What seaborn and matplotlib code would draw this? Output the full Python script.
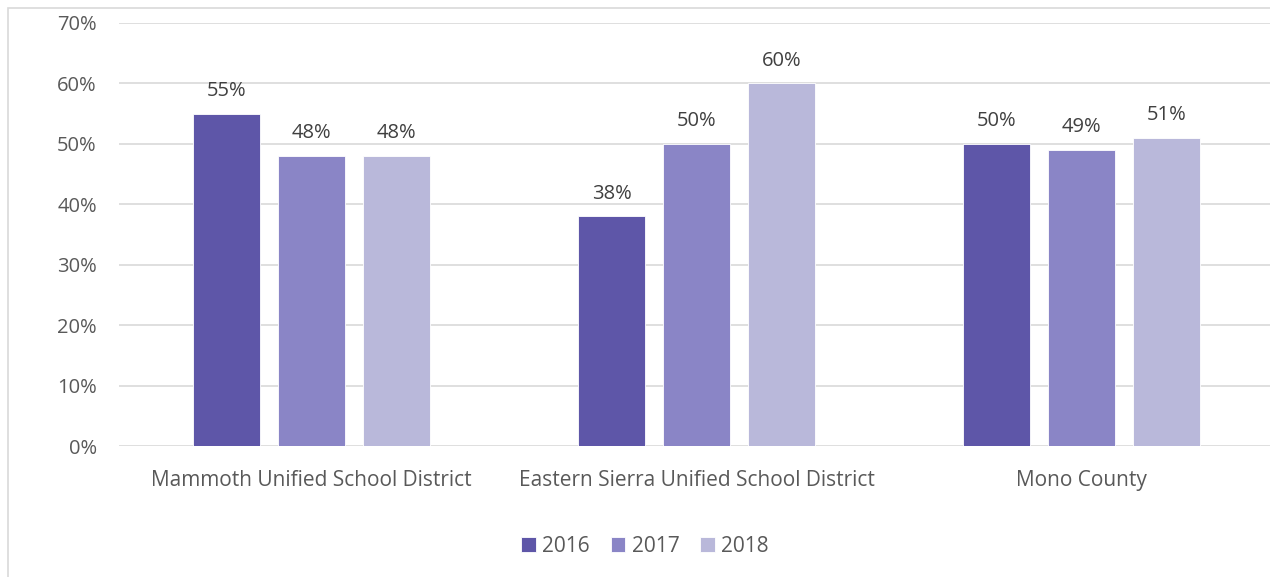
import numpy as np
import pandas as pd
import matplotlib
matplotlib.use("Agg")
import matplotlib.pyplot as plt
import seaborn as sns
from matplotlib.patches import Rectangle

# Data
districts = ["Mammoth Unified School District",
             "Eastern Sierra Unified School District",
             "Mono County"]
years = ["2016", "2017", "2018"]
values_2016 = [55, 38, 50]
values_2017 = [48, 50, 49]
values_2018 = [48, 60, 51]
colors = ["#5E56A8", "#8A85C6", "#B9B8DA"]

df = pd.DataFrame({
    "District": districts * 3,
    "Year": [y for y in years for _ in districts],
    "Value": values_2016 + values_2017 + values_2018,
})

sns.set_style("white")
plt.rcParams["font.family"] = ["Open Sans", "DejaVu Sans"]
text_color = "#595959"

fig = plt.figure(figsize=(12.7, 5.77), dpi=100)
ax = fig.add_axes([119 / 1270, 1 - 446 / 577, 1155 / 1270, 423 / 577])

sns.barplot(data=df, x="District", y="Value", hue="Year", palette=colors,
            saturation=1, width=0.662, gap=0.21, edgecolor="white",
            linewidth=0.6, ax=ax, legend=True)

ax.set_ylim(0, 70)
ax.set_yticks(np.arange(0, 71, 10))
ax.set_yticklabels([f"{v}%" for v in range(0, 71, 10)])
ax.yaxis.grid(True, color="#D9D9D9", linewidth=1.2)
ax.set_axisbelow(True)
for s in ax.spines.values():
    s.set_visible(False)
ax.tick_params(axis="y", length=0, pad=16, labelsize=14.5, labelcolor=text_color)
ax.tick_params(axis="x", length=0, pad=17, labelsize=15, labelcolor=text_color)
ax.set_xlabel("")
ax.set_ylabel("")

for cont in ax.containers:
    ax.bar_label(cont, labels=[f"{v:.0f}%" for v in cont.datavalues],
                 padding=9, fontsize=14.5, color="#404040")

handles, labels = ax.get_legend_handles_labels()
ax.get_legend().remove()
fig.legend(handles, labels, loc="center", bbox_to_anchor=(645 / 1270, 1 - 546 / 577),
           ncol=3, frameon=False, fontsize=15, handlelength=0.7, handleheight=0.7,
           handletextpad=0.3, columnspacing=1.0, labelcolor=text_color)

# Outer chart border (Excel-style)
fig.patches.append(Rectangle((8 / 1270, -0.1), 1.2, 1 - 8 / 577 + 0.1,
                             transform=fig.transFigure, fill=False,
                             edgecolor="#D9D9D9", linewidth=1.2))

fig.savefig("out.png", dpi=100, facecolor="white")
